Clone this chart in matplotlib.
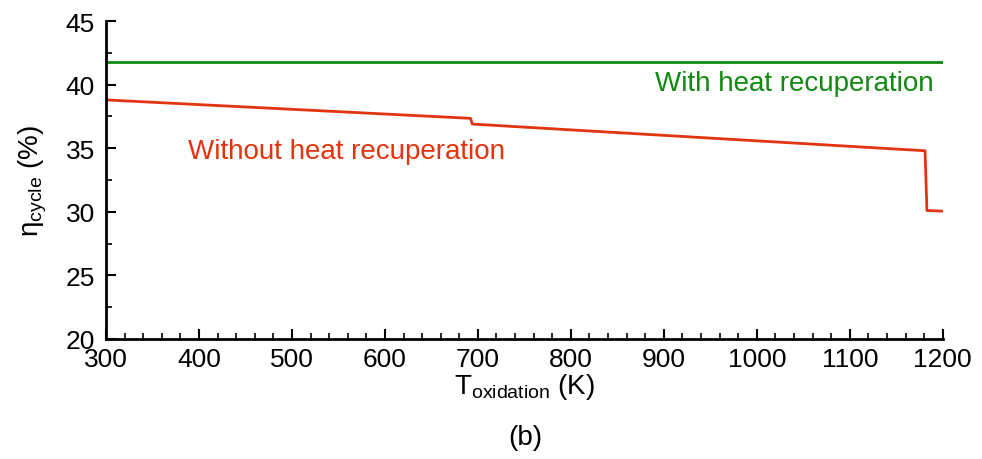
import numpy as np
import matplotlib
matplotlib.use('Agg')
import matplotlib.pyplot as plt
from matplotlib.ticker import MultipleLocator

plt.rcParams['font.family'] = ['Liberation Sans', 'DejaVu Sans']
plt.rcParams['mathtext.fontset'] = 'custom'
plt.rcParams['mathtext.rm'] = 'Liberation Sans'
plt.rcParams['mathtext.it'] = 'Liberation Sans'

# data
tWith = [300, 1200]
etaWith = [41.8, 41.8]
tWithout = [300, 692, 694, 1181, 1183, 1200]
etaWithout = [38.8, 37.35, 36.9, 34.8, 30.1, 30.05]

xTicks = [300, 400, 500, 600, 700, 800, 900, 1000, 1100, 1200]
yTicks = [20, 25, 30, 35, 40, 45]

red = '#e2350f'
green = '#118a11'

fig = plt.figure(figsize=(9.82, 4.6), dpi=100)
ax = fig.add_axes([0.108, 0.261, 0.852, 0.691])

ax.plot(tWith, etaWith, color=green, lw=2)
ax.plot(tWithout, etaWithout, color=red, lw=2)

ax.text(890, 40.1, 'With heat recuperation', color=green, fontsize=20, va='center', ha='left')
ax.text(388, 34.8, 'Without heat recuperation', color=red, fontsize=20, va='center', ha='left')

ax.set_xlim(300, 1200)
ax.set_ylim(20, 45)
ax.set_xticks(xTicks)
ax.set_yticks(yTicks)
ax.xaxis.set_minor_locator(MultipleLocator(20))
ax.yaxis.set_minor_locator(MultipleLocator(2.5))

for side in ['top', 'right']:
    ax.spines[side].set_visible(False)
for side in ['left', 'bottom']:
    ax.spines[side].set_linewidth(2)

ax.tick_params(which='major', direction='in', length=7, width=1.5, labelsize=19)
ax.tick_params(axis='x', which='major', pad=6)
ax.tick_params(axis='y', which='major', pad=8)
ax.tick_params(which='minor', direction='in', length=4, width=1.2)

ax.set_xlabel(r'T$_{\mathrm{oxidation}}$ (K)', fontsize=20, labelpad=0)
ax.set_ylabel(r'$\mathrm{η}_{\mathrm{cycle}}$ (%)', fontsize=20, labelpad=12)
fig.text(0.535, 0.048, '(b)', fontsize=20, ha='center', va='center')

fig.savefig('out.png', dpi=100)
